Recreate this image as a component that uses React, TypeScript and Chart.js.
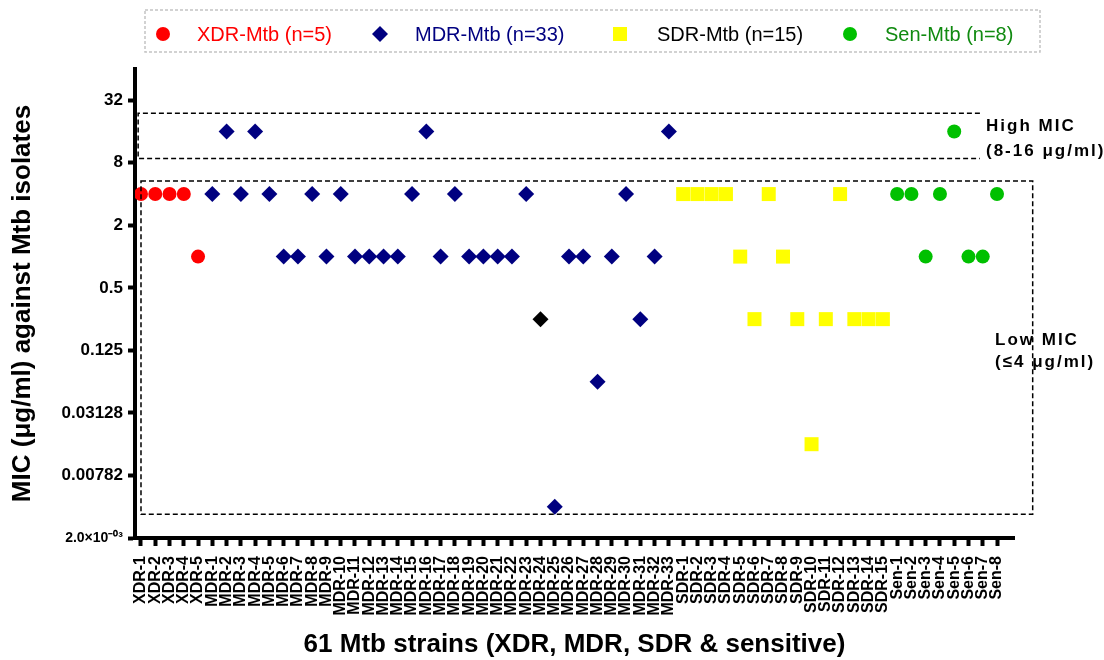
import React, { useEffect, useRef } from 'react';
import { Chart, registerables } from 'chart.js';

Chart.register(...registerables);

// ---------- data ----------
const xdrStrains = ['XDR-1', 'XDR-2', 'XDR-3', 'XDR-4', 'XDR-5'];
const mdrStrains = [
  'MDR-1', 'MDR-2', 'MDR-3', 'MDR-4', 'MDR-5', 'MDR-6', 'MDR-7', 'MDR-8', 'MDR-9', 'MDR-10',
  'MDR-11', 'MDR-12', 'MDR-13', 'MDR-14', 'MDR-15', 'MDR-16', 'MDR-17', 'MDR-18', 'MDR-19', 'MDR-20',
  'MDR-21', 'MDR-22', 'MDR-23', 'MDR-24', 'MDR-25', 'MDR-26', 'MDR-27', 'MDR-28', 'MDR-29', 'MDR-30',
  'MDR-31', 'MDR-32', 'MDR-33',
];
const sdrStrains = [
  'SDR-1', 'SDR-2', 'SDR-3', 'SDR-4', 'SDR-5', 'SDR-6', 'SDR-7', 'SDR-8', 'SDR-9', 'SDR-10',
  'SDR-11', 'SDR-12', 'SDR-13', 'SDR-14', 'SDR-15',
];
const senStrains = ['Sen-1', 'Sen-2', 'Sen-3', 'Sen-4', 'Sen-5', 'Sen-6', 'Sen-7', 'Sen-8'];
const categories = [...xdrStrains, ...mdrStrains, ...sdrStrains, ...senStrains];

// MIC values (µg/ml)
const xdrMic = [4, 4, 4, 4, 1];
const mdrMic = [
  4, 16, 4, 16, 4, 1, 1, 4, 1, 4,
  1, 1, 1, 1, 4, 16, 1, 4, 1, 1,
  1, 1, 4, 0.25, 0.00390625, 1, 1, 0.0625, 1, 4,
  0.25, 1, 16,
];
const sdrMic = [4, 4, 4, 4, 1, 0.25, 4, 1, 0.25, 0.015625, 0.25, 4, 0.25, 0.25, 0.25];
const senMic = [4, 4, 1, 4, 16, 1, 1, 4];
const mdrHighlighted = ['MDR-24'];

// y axis (log2) ticks
const yTickValues = [0.001953125, 0.0078125, 0.03125, 0.125, 0.5, 2, 8, 32];
const yTickLabels = ['2.0×10⁻⁰³', '0.00782', '0.03128', '0.125', '0.5', '2', '8', '32'];
const yMin = 0.001953125;
const yMax = 64;

// MIC bands (dashed boxes), value ranges
const highMicBand = [8.8, 24];
const lowMicBand = [0.0033, 5.35];

// ---------- styles ----------
const FAMILY = "'Liberation Sans', Arial, Helvetica, sans-serif";
const seriesStyle = [
  { name: 'XDR-Mtb', color: '#FF0000', text: '#FF0000', shape: 'circle', radius: 7 },
  { name: 'MDR-Mtb', color: '#000080', text: '#000080', shape: 'rectRot', radius: 8 },
  { name: 'SDR-Mtb', color: '#FFFF00', text: '#000000', shape: 'rect', radius: 9.9 },
  { name: 'Sen-Mtb', color: '#00C000', text: '#108A10', shape: 'circle', radius: 7 },
];
const LEGEND_SLOTS = [
  { mx: 163, tx: 197 },
  { mx: 380, tx: 415 },
  { mx: 620, tx: 657 },
  { mx: 850, tx: 885 },
];

function drawMarker(ctx: CanvasRenderingContext2D, shape: string, x: number, y: number, r: number, color: string) {
  ctx.fillStyle = color;
  ctx.beginPath();
  if (shape === 'circle') {
    ctx.arc(x, y, r, 0, Math.PI * 2);
  } else if (shape === 'rectRot') {
    ctx.moveTo(x, y - r);
    ctx.lineTo(x + r, y);
    ctx.lineTo(x, y + r);
    ctx.lineTo(x - r, y);
    ctx.closePath();
  } else {
    const h = r * Math.SQRT1_2;
    ctx.rect(x - h, y - h, 2 * h, 2 * h);
  }
  ctx.fill();
}

const legendPlugin = {
  id: 'dashedLegend',
  afterDraw(chart: any) {
    const ctx: CanvasRenderingContext2D = chart.ctx;
    ctx.save();
    ctx.setLineDash([3, 2]);
    ctx.strokeStyle = '#C4C4C4';
    ctx.lineWidth = 1.5;
    ctx.strokeRect(145, 10, 895, 42);
    ctx.setLineDash([]);
    ctx.font = `20px ${FAMILY}`;
    ctx.textBaseline = 'middle';
    ctx.textAlign = 'left';
    chart.data.datasets.forEach((ds: any, i: number) => {
      const st = seriesStyle[i];
      const slot = LEGEND_SLOTS[i];
      drawMarker(ctx, st.shape, slot.mx, 34, st.shape === 'rect' ? 9.9 : st.radius, st.color);
      ctx.fillStyle = st.text;
      ctx.fillText(ds.label, slot.tx, 35);
    });
    ctx.restore();
  },
};

const bandsPlugin = {
  id: 'micBands',
  afterDatasetsDraw(chart: any) {
    const ctx: CanvasRenderingContext2D = chart.ctx;
    const x = chart.scales.x;
    const y = chart.scales.y;
    ctx.save();
    ctx.strokeStyle = '#000';
    ctx.lineWidth = 1.5;
    ctx.setLineDash([5, 3]);
    // High MIC box (open on the right)
    const hx0 = x.getPixelForValue(-0.2);
    const hx1 = x.getPixelForValue(58.8);
    const hyTop = y.getPixelForValue(highMicBand[1]);
    const hyBot = y.getPixelForValue(highMicBand[0]);
    ctx.beginPath();
    ctx.moveTo(hx1, hyTop);
    ctx.lineTo(hx0, hyTop);
    ctx.lineTo(hx0, hyBot);
    ctx.lineTo(hx1, hyBot);
    ctx.stroke();
    // Low MIC box
    const lx0 = x.getPixelForValue(0);
    const lx1 = x.getPixelForValue(62.5);
    const lyTop = y.getPixelForValue(lowMicBand[1]);
    const lyBot = y.getPixelForValue(lowMicBand[0]);
    ctx.strokeRect(lx0, lyTop, lx1 - lx0, lyBot - lyTop);
    ctx.setLineDash([]);

    // labels
    ctx.fillStyle = '#000';
    ctx.font = `bold 17px ${FAMILY}`;
    (ctx as any).letterSpacing = '2px';
    ctx.textAlign = 'left';
    ctx.textBaseline = 'alphabetic';
    ctx.fillText('High MIC', 986, 131);
    ctx.fillText('(8-16 μg/ml)', 986, 156);
    ctx.fillText('Low MIC', 995, 345);
    ctx.fillText('(≤4 μg/ml)', 995, 367);
    ctx.restore();
  },
};

function points(strains: string[], mic: number[]) {
  return mic.map((v, i) => ({ x: categories.indexOf(strains[i]), y: v }));
}

export default function App() {
  const canvasRef = useRef<HTMLCanvasElement | null>(null);

  useEffect(() => {
    if (!canvasRef.current) return;
    const groups = [
      { strains: xdrStrains, mic: xdrMic },
      { strains: mdrStrains, mic: mdrMic },
      { strains: sdrStrains, mic: sdrMic },
      { strains: senStrains, mic: senMic },
    ];
    const datasets = groups.map((g, i) => {
      const st = seriesStyle[i];
      const isMdr = i === 1;
      return {
        label: `${st.name} (n=${g.mic.length})`,
        data: points(g.strains, g.mic),
        pointStyle: st.shape,
        pointRadius: st.radius,
        pointBorderWidth: 0,
        pointBackgroundColor: isMdr
          ? (c: any) => (mdrHighlighted.includes(g.strains[c.dataIndex]) ? '#000000' : st.color)
          : st.color,
        pointBorderColor: st.color,
        showLine: false,
      };
    });

    const chart = new Chart(canvasRef.current, {
      type: 'scatter',
      data: { datasets },
      plugins: [bandsPlugin, legendPlugin],
      options: {
        responsive: false,
        animation: false,
        events: [],
        layout: { padding: { top: 69, right: 90, bottom: 0, left: 0 } },
        plugins: {
          legend: { display: false },
          tooltip: { enabled: false },
        },
        scales: {
          x: {
            type: 'linear',
            min: -0.42,
            max: 61.19,
            bounds: 'data',
            afterBuildTicks: (s: any) => {
              s.ticks = categories.map((_, i) => ({ value: i }));
            },
            afterFit: (s: any) => {
              s.height = 122;
            },
            grid: {
              display: true,
              drawOnChartArea: false,
              drawTicks: true,
              tickLength: 8,
              tickWidth: 4,
              tickColor: '#000',
              color: '#000',
            },
            border: { display: true, color: '#000', width: 4 },
            ticks: {
              autoSkip: false,
              maxRotation: 90,
              minRotation: 90,
              padding: 10,
              color: '#000',
              font: { family: FAMILY, size: 16, weight: 'bold' },
              callback: (v: any) => categories[v] ?? '',
            },
            title: {
              display: true,
              text: `${categories.length} Mtb strains (XDR, MDR, SDR & sensitive)`,
              color: '#000',
              font: { family: FAMILY, size: 26, weight: 'bold' },
              padding: { top: 0, bottom: 0 },
            },
          },
          y: {
            type: 'logarithmic',
            min: yMin,
            max: yMax,
            bounds: 'data',
            afterBuildTicks: (s: any) => {
              s.ticks = yTickValues.map((v) => ({ value: v }));
            },
            afterFit: (s: any) => {
              s.width = 135;
            },
            grid: {
              display: true,
              drawOnChartArea: false,
              drawTicks: true,
              tickLength: 7,
              tickWidth: 4,
              tickColor: '#000',
              color: '#000',
            },
            border: { display: true, color: '#000', width: 4 },
            ticks: {
              padding: 5,
              color: '#000',
              font: (c: any) => ({ family: FAMILY, size: c.index === 0 ? 14 : 17, weight: 'bold' }),
              callback: (_v: any, i: number) => yTickLabels[i],
            },
            title: {
              display: true,
              text: 'MIC (μg/ml) against Mtb isolates',
              color: '#000',
              font: { family: FAMILY, size: 26, weight: 'bold' },
              padding: { top: 7, bottom: 0 },
            },
          },
        },
      } as any,
    });
    return () => chart.destroy();
  }, []);

  return (
    <div style={{ position: 'absolute', left: 0, top: 0, width: 1104, height: 660, background: '#fff' }}>
      <canvas ref={canvasRef} width={1104} height={660} style={{ width: 1104, height: 660, display: 'block' }} />
    </div>
  );
}
